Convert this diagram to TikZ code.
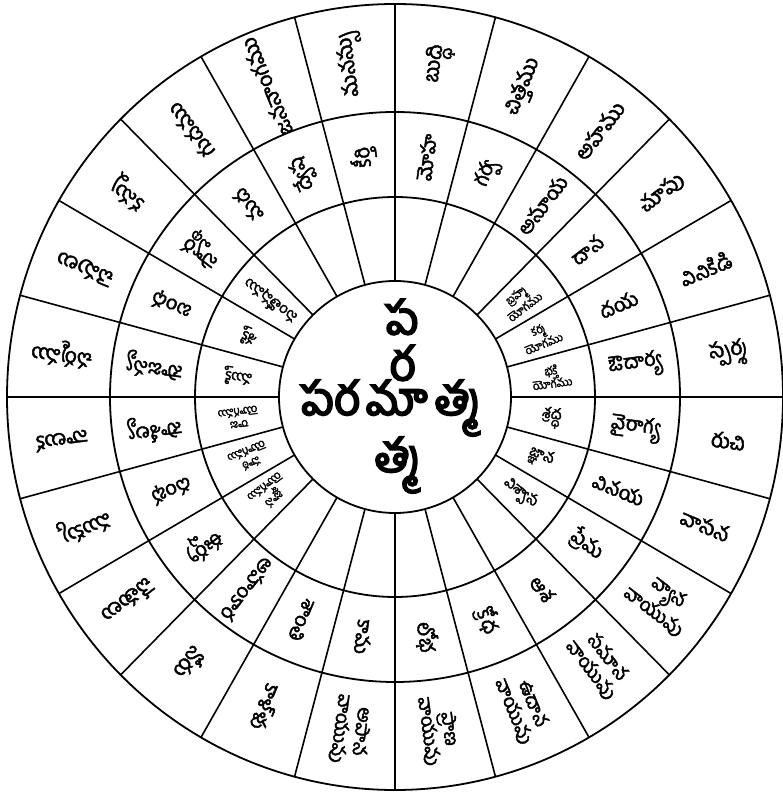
\documentclass[tikz,border=0pt]{standalone}
\usepackage{fontspec}
\newfontfamily\telugu[Script=Telugu, FakeBold=2.2]{Hind Guntur}
\newfontfamily\telugubig[Script=Telugu, FakeBold=4]{Hind Guntur}

\begin{document}
\begin{tikzpicture}[x=1pt, y=1pt,
    ringline/.style={line width=1.8pt},
    spokeline/.style={line width=1.6pt},
    outerlbl/.style={font=\telugu\fontsize{21}{22}\selectfont, inner sep=0pt},
    airlbl/.style={font=\telugu\fontsize{19}{21}\selectfont, inner sep=0pt, align=center},
    midlbl/.style={font=\telugu\fontsize{20}{22}\selectfont, inner sep=0pt},
    innerlbl/.style={font=\telugu\fontsize{15}{16}\selectfont, inner sep=0pt},
    yogalbl/.style={font=\telugu\fontsize{11.5}{13}\selectfont, inner sep=0pt, align=center},
    centrelbl/.style={font=\telugubig\fontsize{46}{50}\selectfont, inner sep=0pt},
]
\useasboundingbox (0,0) rectangle (783,793);

\begin{scope}[shift={(395,396)}]
% rings
\draw[ringline] (0,0) ellipse [x radius=388, y radius=393];
\draw[ringline] (0,0) circle (285);
\draw[ringline] (0,0) circle (200);
\draw[ringline] (0,0) circle (116);
% spokes
\foreach \a in {0,15,...,345}
  \draw[spokeline] (\a:116) -- ({388*cos(\a)},{393*sin(\a)});

% outer ring
\foreach \ang/\txt [count=\k] in {7.5/స్పర్శ, 22.5/వినికిడి, 37.5/చూపు, 52.5/అహము,
    67.5/చిత్తము, 82.5/బుద్ధి, 97.5/మనస్సు, 112.5/జననాంగము, 127.5/గుదము,
    142.5/కన్ను, 157.5/చెవులు, 172.5/చర్మము, 187.5/నాలుక, 202.5/ముక్కు,
    217.5/చేతులు, 232.5/నోరు, 247.5/కాళ్ళు, 337.5/వాసన, 352.5/రుచి}
  \node[outerlbl, rotate=\ang] (outer\k) at (\ang:336) {\txt};
\foreach \ang/\txt [count=\k] in {262.5/{అపాన\\వాయువు}, 277.5/{ప్రాణ\\వాయువు},
    292.5/{ఉదాన\\వాయువు}, 307.5/{సమాన\\వాయువు}, 322.5/{వ్యాన\\వాయువు}}
  \node[airlbl, rotate=\ang] (air\k) at (\ang:336) {\txt};

% middle ring
\foreach \ang/\txt [count=\k] in {7.5/ఔదార్య, 22.5/దయ, 37.5/దాన, 52.5/అసూయ,
    67.5/గర్వ, 82.5/మోహ, 97.5/కీర్తి, 112.5/ద్వేష, 127.5/మద, 142.5/స్వార్థ,
    157.5/బంధ, 172.5/సౌజన్య, 187.5/సౌశీల్య, 202.5/దంభ, 217.5/ఈర్ష్య,
    232.5/అహంకార, 247.5/శాంతి, 262.5/కామ, 277.5/లోభ, 292.5/క్రోధ,
    307.5/ఆశ, 322.5/ప్రేమ, 337.5/వినయ, 352.5/వైరాగ్య}
  \node[midlbl, rotate=\ang] (mid\k) at (\ang:242) {\txt};

% inner ring
\foreach \ang/\txt [count=\k] in {142.5/సంతోషము, 157.5/శక్తి, 172.5/ముక్తి,
    322.5/విశ్వాస, 337.5/జ్ఞాన, 352.5/శ్రద్ధ}
  \node[innerlbl, rotate=\ang] (inner\k) at (\ang:158) {\txt};
\foreach \ang/\txt [count=\k] in {7.5/భక్తి, 22.5/కర్మ, 37.5/బ్రహ్మ,
    187.5/రాజ, 202.5/హఠ, 217.5/జ్ఞాన}
  \node[yogalbl, rotate=\ang] (yoga\k) at (\ang:158) {\txt\\యోగము};
\end{scope}

% centre
\node[centrelbl] (centreP) at (402,476) {ప};
\node[centrelbl] (centreR) at (402,430) {ర};
\node[centrelbl] (centreRow) at (391,385) {పర\hspace{7pt}మా\hspace{7pt}త్మ};
\node[centrelbl] (centreT) at (398,328) {త్మ};

\end{tikzpicture}
\end{document}
